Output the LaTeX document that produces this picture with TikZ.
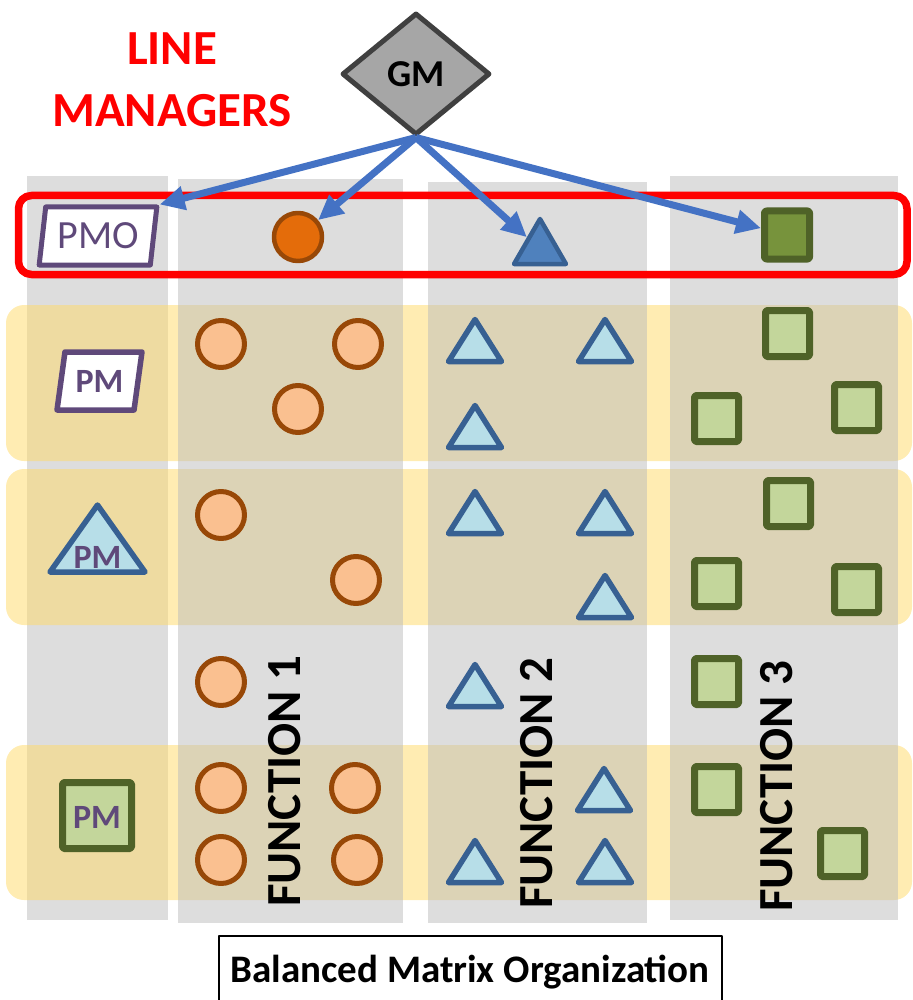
\documentclass[tikz,border=0pt]{standalone}
\usepackage{fontspec}
\setmainfont{Carlito}
\usetikzlibrary{shapes.geometric,arrows.meta}
\definecolor{bmoGray}{HTML}{BBBBBB}
\definecolor{bmoYellow}{HTML}{FFD966}
\definecolor{bmoPurple}{HTML}{5F497A}
\definecolor{bmoOrange}{HTML}{E46C0A}
\definecolor{bmoOrangeLight}{HTML}{FAC090}
\definecolor{bmoOrangeLine}{HTML}{984807}
\definecolor{bmoBlue}{HTML}{4F81BD}
\definecolor{bmoBlueLight}{HTML}{B7DEE8}
\definecolor{bmoBlueLine}{HTML}{376092}
\definecolor{bmoGreen}{HTML}{77933C}
\definecolor{bmoGreenLight}{HTML}{C3D69B}
\definecolor{bmoGreenLine}{HTML}{4F6228}
\definecolor{bmoArrow}{HTML}{4472C4}
\definecolor{bmoRed}{HTML}{FF0000}
\definecolor{bmoDiamond}{HTML}{A6A6A6}
\definecolor{bmoDiamondLine}{HTML}{404040}

\begin{document}
\begin{tikzpicture}[x=1pt, y=-1pt, line join=round,
  smallcirc/.style={draw=bmoOrangeLine, fill=bmoOrangeLight, line width=5pt},
  smalltri/.style={draw=bmoBlueLine, fill=bmoBlueLight, line width=5.5pt},
  smallsq/.style={draw=bmoGreenLine, fill=bmoGreenLight, line width=7pt, rounded corners=1.5pt},
  pmtext/.style={text=bmoPurple, font=\fontsize{34}{40}\selectfont\bfseries, inner sep=0pt},
  mgrtext/.style={text=bmoRed, font=\fontsize{49}{58}\selectfont\bfseries, inner sep=0pt},
  funclabel/.style={rotate=90, font=\fontsize{49}{58}\selectfont\bfseries, inner sep=0pt},
  gmarrow/.style={draw=bmoArrow, line width=7pt, -{Triangle[length=25pt,width=23pt]}},
  capbox/.style={draw=black, line width=2pt, minimum width=503pt, text height=27pt,
    text depth=9pt, inner ysep=19pt, font=\fontsize{39}{47}\selectfont\bfseries}]
\providecommand{\bmoBandRadius}{18pt}
\providecommand{\bmoBoxLineWidth}{7.5pt}
\useasboundingbox (0,0) rectangle (912,1000);
% First column sits under the bands
\begin{scope}[fill=bmoGray, fill opacity=0.5]
  \fill (27,176) rectangle (168,920);
\end{scope}
% Project rows
\begin{scope}[fill=bmoYellow, fill opacity=0.5, rounded corners=\bmoBandRadius]
  \fill (6,305) rectangle (912,461);
  \fill (6,469) rectangle (912,625);
  \fill (6,745) rectangle (912,900);
\end{scope}
% Function columns
\begin{scope}[fill=bmoGray, fill opacity=0.5]
  \fill (178,179) rectangle (403,923);
  \fill (428,182) rectangle (647,923);
  \fill (670,176) rectangle (898,920);
\end{scope}
% Line managers frame
\draw[draw=bmoRed, line width=\bmoBoxLineWidth, rounded corners=13pt] (18.5,195.5) rectangle (907,274.5);
\node[mgrtext, anchor=base] (linetxt) at (172,65) {LINE};
\node[mgrtext, anchor=base] (mgrtxt) at (172,127) {MANAGERS};
% General manager and line managers
\node[diamond, draw=bmoDiamondLine, fill=bmoDiamond, line width=5pt, minimum width=148pt,
  minimum height=122pt, inner sep=0pt, font=\fontsize{38}{45}\selectfont\bfseries] (gm) at (416,74) {GM};
\node[trapezium, trapezium left angle=79, trapezium right angle=101, trapezium stretches=true,
  minimum width=118pt, minimum height=58pt, inner sep=0pt, draw=bmoPurple, fill=white, line width=5pt,
  text=bmoPurple, font=\fontsize{40}{46}\selectfont] (pmo) at (98,236) {PMO};
\node[circle, draw=bmoOrangeLine, fill=bmoOrange, line width=4.5pt, minimum size=48pt, inner sep=0pt] (orangelm) at (298,237) {};
\node[regular polygon, regular polygon sides=3, draw=bmoBlueLine, fill=bmoBlue, line width=4.5pt,
  minimum size=60pt, inner sep=0pt] (bluelm) at (540,249) {};
\node[rectangle, draw=bmoGreenLine, fill=bmoGreen, line width=7pt, rounded corners=2pt,
  minimum width=45pt, minimum height=48pt, inner sep=0pt] (greenlm) at (787,235) {};
\draw[gmarrow] (gm.south) -- (pmo.top right corner);
\draw[gmarrow] (gm.south) -- (orangelm);
\draw[gmarrow] (gm.south) -- (bluelm);
\draw[gmarrow] (gm.south) -- (greenlm);
% Project managers
\node[trapezium, trapezium left angle=76, trapezium right angle=104, trapezium stretches=true,
  minimum width=85pt, minimum height=58pt, inner sep=0pt, draw=bmoPurple, fill=white, line width=5.5pt,
  text=bmoPurple, font=\fontsize{34}{40}\selectfont\bfseries] (pmpar) at (99.5,381) {PM};
\draw[smalltri] (50,572) -- (97.5,505) -- (145,572) -- cycle;
\node[pmtext] (pmtri) at (97.5,557) {PM};
\draw[smallsq] (62.5,782.5) rectangle (131.5,848.5);
\node[pmtext] (pmsq) at (97,817) {PM};
% Function 1 staff
\draw[smallcirc] (221,344) circle (23.5pt);
\draw[smallcirc] (358,344) circle (23.5pt);
\draw[smallcirc] (298,409) circle (23.5pt);
\draw[smallcirc] (221,515) circle (23.5pt);
\draw[smallcirc] (356,580) circle (23.5pt);
\draw[smallcirc] (221,682) circle (23.5pt);
\draw[smallcirc] (221,788) circle (23.5pt);
\draw[smallcirc] (355,788) circle (23.5pt);
\draw[smallcirc] (221,860) circle (23.5pt);
\draw[smallcirc] (357,860) circle (23.5pt);
% Function 2 staff
\draw[smalltri] (448.5,361.5) -- ++(26.5,-42) -- ++(26.5,42) -- cycle;
\draw[smalltri] (578.5,361.5) -- ++(26.5,-42) -- ++(26.5,42) -- cycle;
\draw[smalltri] (448.5,447.5) -- ++(26.5,-42) -- ++(26.5,42) -- cycle;
\draw[smalltri] (448.5,533.5) -- ++(26.5,-42) -- ++(26.5,42) -- cycle;
\draw[smalltri] (578.5,533.5) -- ++(26.5,-42) -- ++(26.5,42) -- cycle;
\draw[smalltri] (578.5,617.5) -- ++(26.5,-42) -- ++(26.5,42) -- cycle;
\draw[smalltri] (448.5,706.5) -- ++(26.5,-42) -- ++(26.5,42) -- cycle;
\draw[smalltri] (577.5,810.5) -- ++(26.5,-42) -- ++(26.5,42) -- cycle;
\draw[smalltri] (448.5,882.5) -- ++(26.5,-42) -- ++(26.5,42) -- cycle;
\draw[smalltri] (578.5,882.5) -- ++(26.5,-42) -- ++(26.5,42) -- cycle;
% Function 3 staff
\draw[smallsq] (765.5,310.5) rectangle ++(44,46);
\draw[smallsq] (694.5,395.5) rectangle ++(44,46);
\draw[smallsq] (834.5,384.5) rectangle ++(44,46);
\draw[smallsq] (766.5,480.5) rectangle ++(44,46);
\draw[smallsq] (694.5,560.5) rectangle ++(44,46);
\draw[smallsq] (834.5,566.5) rectangle ++(44,46);
\draw[smallsq] (694.5,658.5) rectangle ++(44,46);
\draw[smallsq] (694.5,766.5) rectangle ++(44,46);
\draw[smallsq] (820.5,830.5) rectangle ++(44,46);
% Column titles
\node[funclabel] (func1) at (285,781) {FUNCTION 1};
\node[funclabel] (func2) at (537,783) {FUNCTION 2};
\node[funclabel] (func3) at (777,786) {FUNCTION 3};
% Caption
\node[capbox, anchor=base] (caption) at (470,982) {Balanced Matrix Organization};
\end{tikzpicture}
\end{document}
